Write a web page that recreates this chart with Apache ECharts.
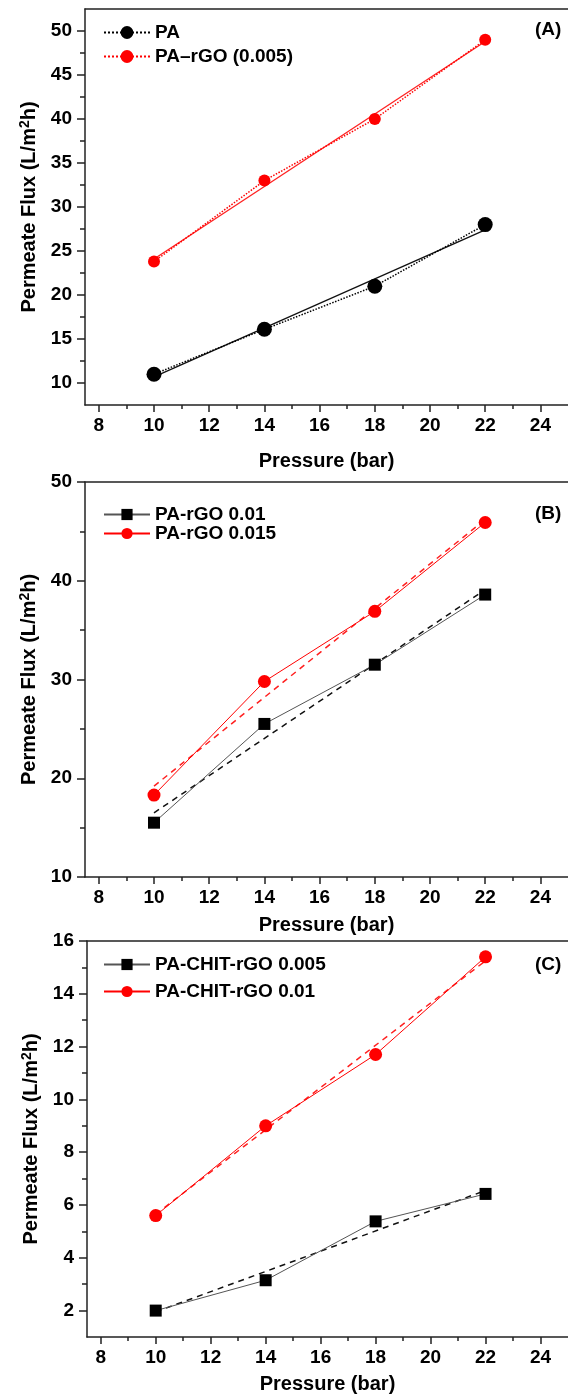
<!DOCTYPE html>
<html>
<head>
<meta charset="utf-8">
<script src="https://cdn.jsdelivr.net/npm/echarts@6/dist/echarts.min.js"></script>
<style>
  html, body { margin: 0; padding: 0; background: #fff; overflow: hidden; }
  #chart { width: 568px; height: 1396px; }
</style>
</head>
<body>
<div id="chart"></div>
<script>
// values
const pressure = [10, 14, 18, 22];
const fitX = [10, 22];

// panel A
const fluxPA = [11, 16.1, 21, 28];
const fluxPArGO005 = [23.8, 33, 40, 49];
const fitPA = [10.7, 27.4];
const fitPArGO005 = [24.1, 48.8];

// panel B
const fluxPArGO01 = [15.5, 25.5, 31.5, 38.6];
const fluxPArGO015 = [18.3, 29.8, 36.9, 45.9];
const fitPArGO01 = [16.5, 39.1];
const fitPArGO015 = [19.2, 46.2];

// panel C
const fluxCHIT005 = [2.0, 3.15, 5.38, 6.42];
const fluxCHIT01 = [5.6, 9.0, 11.7, 15.4];
const fitCHIT005 = [1.95, 6.55];
const fitCHIT01 = [5.65, 15.25];

// tick labels
const xTicks = [8, 10, 12, 14, 16, 18, 20, 22, 24];
const xMinor = [9, 11, 13, 15, 17, 19, 21, 23];
const yTicksA = [10, 15, 20, 25, 30, 35, 40, 45, 50];
const yMinorA = [12.5, 17.5, 22.5, 27.5, 32.5, 37.5, 42.5, 47.5];
const yTicksB = [10, 20, 30, 40, 50];
const yMinorB = [15, 25, 35, 45];
const yTicksC = [2, 4, 6, 8, 10, 12, 14, 16];
const yMinorC = [3, 5, 7, 9, 11, 13, 15];

const FONT = '"Liberation Sans", Arial, sans-serif';
const AXIS_COLOR = '#222';

const pts = (xs, ys) => xs.map((x, i) => [x, ys[i]]);

const panels = [
  { top: 9, height: 396, left: 85, yMin: 7.5, yMax: 52.5, yTicks: yTicksA, yMinor: yMinorA, xNameGap: 46, label: '(A)' },
  { top: 482, height: 395, left: 85, yMin: 10, yMax: 50, yTicks: yTicksB, yMinor: yMinorB, xNameGap: 38, label: '(B)' },
  { top: 941, height: 396, left: 87, yMin: 1, yMax: 16, yTicks: yTicksC, yMinor: yMinorC, xNameGap: 37, label: '(C)' }
];

const grids = [], xAxes = [], yAxes = [], titles = [];
panels.forEach((p, i) => {
  // the frame runs past the right edge of the picture
  grids.push({ left: p.left, top: p.top, height: p.height, width: 490 });
  // main x axis
  xAxes.push({
    gridIndex: i, type: 'value', position: 'bottom', min: 7.5, max: 25,
    name: 'Pressure (bar)', nameLocation: 'middle', nameGap: p.xNameGap,
    nameTextStyle: { fontFamily: FONT, fontSize: 20, fontWeight: 'bold', color: '#000' },
    axisLine: { show: true, onZero: false, lineStyle: { color: AXIS_COLOR, width: 1.5 } },
    axisTick: { show: true, customValues: xTicks, length: 7, lineStyle: { color: AXIS_COLOR, width: 1.5 } },
    axisLabel: { customValues: xTicks, margin: 11, fontFamily: FONT, fontSize: 19, fontWeight: 'bold', color: '#000' },
    splitLine: { show: false }
  });
  // minor x ticks
  xAxes.push({
    gridIndex: i, type: 'value', position: 'bottom', min: 7.5, max: 25,
    axisLine: { show: false },
    axisTick: { show: true, customValues: xMinor, length: 4, lineStyle: { color: AXIS_COLOR, width: 1.5 } },
    axisLabel: { show: false },
    splitLine: { show: false }
  });
  // top frame line
  xAxes.push({
    gridIndex: i, type: 'value', position: 'top', min: 7.5, max: 25,
    axisLine: { show: true, onZero: false, lineStyle: { color: AXIS_COLOR, width: 1.5 } },
    axisTick: { show: false },
    axisLabel: { show: false },
    splitLine: { show: false }
  });
  // main y axis
  yAxes.push({
    gridIndex: i, type: 'value', position: 'left', min: p.yMin, max: p.yMax,
    name: 'Permeate Flux (L/m{sup|2}h)', nameLocation: 'middle', nameGap: 41,
    nameTextStyle: {
      fontFamily: FONT, fontSize: 20, fontWeight: 'bold', color: '#000',
      rich: { sup: { fontFamily: FONT, fontSize: 14, fontWeight: 'bold', color: '#000', verticalAlign: 'bottom', padding: [0, 0, 9, 0] } }
    },
    axisLine: { show: true, onZero: false, lineStyle: { color: AXIS_COLOR, width: 1.5 } },
    axisTick: { show: true, customValues: p.yTicks, length: 8, lineStyle: { color: AXIS_COLOR, width: 1.5 } },
    axisLabel: { customValues: p.yTicks, margin: 13, fontFamily: FONT, fontSize: 19, fontWeight: 'bold', color: '#000' },
    splitLine: { show: false }
  });
  // minor y ticks
  yAxes.push({
    gridIndex: i, type: 'value', position: 'left', min: p.yMin, max: p.yMax,
    axisLine: { show: false },
    axisTick: { show: true, customValues: p.yMinor, length: 5, lineStyle: { color: AXIS_COLOR, width: 1.5 } },
    axisLabel: { show: false },
    splitLine: { show: false }
  });
  titles.push({
    text: p.label, left: 535, top: [20.5, 504.5, 955.5][i], padding: 0,
    textStyle: { fontFamily: FONT, fontSize: 19, fontWeight: 'bold', color: '#000' }
  });
});

// helper for series
function lineSeries(name, grid, data, opts) {
  return Object.assign({
    name: name, type: 'line', xAxisIndex: grid * 3, yAxisIndex: grid * 2,
    data: data, animation: false, silent: true
  }, opts);
}

const series = [
  // panel A: linear fits (solid) and data (dotted)
  lineSeries('fitA1', 0, pts(fitX, fitPA), { symbol: 'none', lineStyle: { color: '#111', width: 1.3 } }),
  lineSeries('fitA2', 0, pts(fitX, fitPArGO005), { symbol: 'none', lineStyle: { color: '#ff2020', width: 1.3 } }),
  lineSeries('PA', 0, pts(pressure, fluxPA), {
    symbol: 'circle', symbolSize: 15, itemStyle: { color: '#000' },
    lineStyle: { color: '#000', width: 1.5, type: 'dotted' }
  }),
  lineSeries('PA\u2013rGO (0.005)', 0, pts(pressure, fluxPArGO005), {
    symbol: 'circle', symbolSize: 12, itemStyle: { color: '#ff0000' },
    lineStyle: { color: '#ff0000', width: 1.5, type: 'dotted' }
  }),

  // panel B
  lineSeries('fitB1', 1, pts(fitX, fitPArGO01), { symbol: 'none', lineStyle: { color: '#111', width: 1.5, type: [6, 5] } }),
  lineSeries('fitB2', 1, pts(fitX, fitPArGO015), { symbol: 'none', lineStyle: { color: '#ff2020', width: 1.5, type: [6, 5] } }),
  lineSeries('PA-rGO 0.01', 1, pts(pressure, fluxPArGO01), {
    symbol: 'rect', symbolSize: 12, itemStyle: { color: '#000' },
    lineStyle: { color: '#555', width: 1 }
  }),
  lineSeries('PA-rGO 0.015', 1, pts(pressure, fluxPArGO015), {
    symbol: 'circle', symbolSize: 13, itemStyle: { color: '#ff0000' },
    lineStyle: { color: '#ff0000', width: 1 }
  }),

  // panel C
  lineSeries('fitC1', 2, pts(fitX, fitCHIT005), { symbol: 'none', lineStyle: { color: '#111', width: 1.5, type: [6, 5] } }),
  lineSeries('fitC2', 2, pts(fitX, fitCHIT01), { symbol: 'none', lineStyle: { color: '#ff2020', width: 1.5, type: [6, 5] } }),
  lineSeries('PA-CHIT-rGO 0.005', 2, pts(pressure, fluxCHIT005), {
    symbol: 'rect', symbolSize: 12, itemStyle: { color: '#000' },
    lineStyle: { color: '#555', width: 1 }
  }),
  lineSeries('PA-CHIT-rGO 0.01', 2, pts(pressure, fluxCHIT01), {
    symbol: 'circle', symbolSize: 13, itemStyle: { color: '#ff0000' },
    lineStyle: { color: '#ff0000', width: 1 }
  })
];

function legendAt(names, top, gap, h) {
  return {
    data: names, orient: 'vertical', left: 103, top: top, padding: 0,
    itemWidth: 46, itemHeight: h, itemGap: gap, selectedMode: false,
    textStyle: { fontFamily: FONT, fontSize: 19, fontWeight: 'bold', color: '#000' }
  };
}

const chart = echarts.init(document.getElementById('chart'));
chart.setOption({
  animation: false,
  backgroundColor: '#fff',
  title: titles,
  grid: grids,
  xAxis: xAxes,
  yAxis: yAxes,
  legend: [
    legendAt(['PA', 'PA\u2013rGO (0.005)'], 23, 5, 16),
    legendAt(['PA-rGO 0.01', 'PA-rGO 0.015'], 505, 0, 14),
    legendAt(['PA-CHIT-rGO 0.005', 'PA-CHIT-rGO 0.01'], 955, 8, 14)
  ],
  series: series
});
</script>
</body>
</html>
